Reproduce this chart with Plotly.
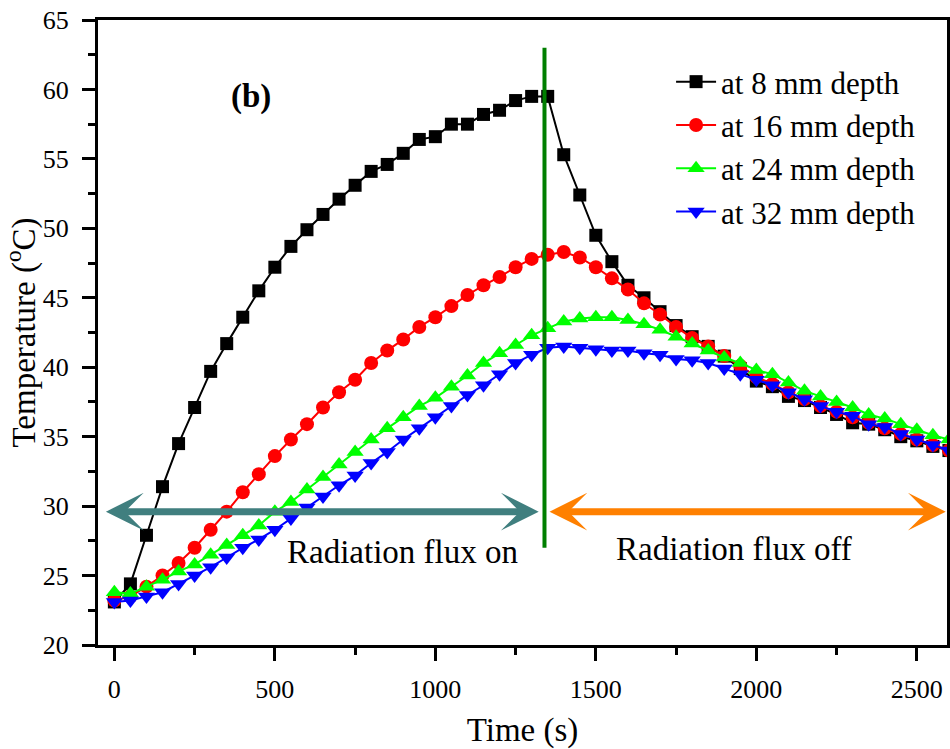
import plotly.graph_objects as go

# ---- data ----
time_s = [0, 50, 100, 150, 200, 250, 300, 350, 400, 450, 500, 550, 600, 650, 700, 750,
          800, 850, 900, 950, 1000, 1050, 1100, 1150, 1200, 1250, 1300, 1350, 1400, 1450,
          1500, 1550, 1600, 1650, 1700, 1750, 1800, 1850, 1900, 1950, 2000, 2050, 2100,
          2150, 2200, 2250, 2300, 2350, 2400, 2450, 2500, 2550, 2600]

depth_8mm = [23.1, 24.4, 27.9, 31.4, 34.5, 37.1, 39.7, 41.7, 43.6, 45.5, 47.2, 48.7, 49.9, 51.0, 52.1, 53.1,
             54.1, 54.6, 55.4, 56.4, 56.6, 57.5, 57.5, 58.2, 58.5, 59.2, 59.5, 59.5, 55.3, 52.4,
             49.5, 47.6, 45.9, 45.0, 44.0, 43.0, 42.2, 41.5, 40.8, 39.9, 39.0, 38.6, 37.9,
             37.6, 37.1, 36.6, 36.0, 35.9, 35.5, 35.0, 34.7, 34.3, 34.0]

depth_16mm = [23.2, 23.5, 24.2, 25.0, 25.9, 27.0, 28.3, 29.6, 31.0, 32.3, 33.6, 34.8, 35.9, 37.1, 38.2, 39.1,
              40.3, 41.2, 42.0, 42.9, 43.6, 44.4, 45.2, 45.9, 46.5, 47.2, 47.8, 48.1, 48.3, 47.9,
              47.2, 46.4, 45.6, 44.6, 43.8, 42.9, 42.1, 41.5, 40.8, 40.1, 39.3, 38.8, 38.2,
              37.7, 37.2, 36.8, 36.4, 36.0, 35.6, 35.2, 34.8, 34.4, 34.0]

depth_24mm = [23.8, 23.7, 24.2, 24.7, 25.3, 25.8, 26.5, 27.2, 27.9, 28.6, 29.6, 30.3, 31.2, 32.1, 33.0, 33.9,
              34.8, 35.6, 36.4, 37.2, 37.8, 38.6, 39.4, 40.3, 41.0, 41.6, 42.3, 42.8, 43.3, 43.5,
              43.6, 43.6, 43.4, 43.1, 42.7, 42.2, 41.7, 41.2, 40.7, 40.3, 39.8, 39.5, 38.9,
              38.3, 37.9, 37.5, 37.1, 36.6, 36.3, 35.9, 35.5, 35.1, 34.8]

depth_32mm = [23.1, 23.2, 23.5, 23.8, 24.4, 25.0, 25.6, 26.3, 27.0, 27.6, 28.3, 29.1, 29.9, 30.7, 31.5, 32.2,
              33.1, 33.9, 34.8, 35.6, 36.4, 37.2, 38.0, 38.7, 39.5, 40.3, 40.9, 41.4, 41.5, 41.4,
              41.3, 41.2, 41.2, 41.0, 40.9, 40.6, 40.5, 40.3, 39.9, 39.5, 39.1, 38.7, 38.2,
              37.7, 37.2, 36.8, 36.5, 35.9, 35.7, 35.2, 34.8, 34.4, 34.0]

series_names = ["at 8 mm depth", "at 16 mm depth", "at 24 mm depth", "at 32 mm depth"]
series_values = [depth_8mm, depth_16mm, depth_24mm, depth_32mm]
series_colors = ["#000000", "#FF0000", "#00FF00", "#0000FF"]
series_symbols = ["square", "circle", "triangle-up", "triangle-down"]
series_sizes = [13, 14, 15, 15]

x_ticks = [0, 500, 1000, 1500, 2000, 2500]
y_ticks = [20, 25, 30, 35, 40, 45, 50, 55, 60, 65]

switch_time = 1340          # radiation flux switched off
switch_line_y = [27.0, 63.0]
arrow_y = 29.6
flux_on_span = [-31, 1322]
flux_off_span = [1351, 2590]

FONT = "Liberation Serif"

fig = go.Figure()
for name, vals, col, sym, sz in zip(series_names, series_values, series_colors,
                                     series_symbols, series_sizes):
    fig.add_trace(go.Scatter(
        x=time_s, y=vals, name=name, mode="lines+markers",
        line=dict(color=col, width=2),
        marker=dict(symbol=sym, size=sz, color=col, line=dict(width=0)),
    ))

# vertical switch line
fig.add_trace(go.Scatter(
    x=[switch_time, switch_time], y=switch_line_y, mode="lines",
    line=dict(color="#007F00", width=4), showlegend=False, hoverinfo="skip",
))

# arrows
for span, col in [(flux_on_span, "#407F7F"), (flux_off_span, "#FF8000")]:
    fig.add_annotation(
        x=span[1], y=arrow_y, ax=span[0], ay=arrow_y,
        xref="x", yref="y", axref="x", ayref="y",
        text="", showarrow=True, arrowside="end+start",
        arrowhead=3, startarrowhead=3, arrowsize=0.9, startarrowsize=0.9,
        arrowwidth=7, arrowcolor=col, standoff=0, startstandoff=0,
    )

fig.add_annotation(x=898, y=26.7, xref="x", yref="y", text="Radiation flux on",
                   showarrow=False, font=dict(family=FONT, size=33, color="black"))
fig.add_annotation(x=1930, y=26.9, xref="x", yref="y", text="Radiation flux off",
                   showarrow=False, font=dict(family=FONT, size=33, color="black"))
fig.add_annotation(x=426, y=59.5, xref="x", yref="y", text="<b>(b)</b>",
                   showarrow=False, font=dict(family=FONT, size=33, color="black"))

axis_common = dict(
    showline=True, linewidth=3, linecolor="black", mirror=True,
    ticks="outside", ticklen=13, tickwidth=3, tickcolor="black",
    showgrid=False, zeroline=False,
    tickfont=dict(family=FONT, size=26, color="black"),
    minor=dict(ticks="outside", ticklen=7, tickwidth=3, tickcolor="black", showgrid=False),
)

fig.update_xaxes(
    range=[-51, 2594], tickvals=x_ticks, ticktext=[str(v) for v in x_ticks],
    minor_dtick=250, minor_tick0=0, automargin="bottom",
    title=dict(text="Time (s)", font=dict(family=FONT, size=33, color="black"), standoff=16),
    ticklabelstandoff=6,
    **axis_common,
)
fig.update_yaxes(
    range=[20, 65], tickvals=y_ticks, ticktext=[str(v) for v in y_ticks],
    minor_dtick=2.5, minor_tick0=0, automargin="left",
    title=dict(text="Temperature (<sup>o</sup>C)", font=dict(family=FONT, size=33, color="black"),
               standoff=2),
    ticklabelstandoff=8,
    **axis_common,
)

fig.update_layout(
    width=950, height=749,
    margin=dict(l=98, r=3, t=20, b=104),
    paper_bgcolor="white", plot_bgcolor="white",
    showlegend=True,
    legend=dict(x=0.675, y=0.944, xanchor="left", yanchor="top",
                bgcolor="rgba(0,0,0,0)", borderwidth=0,
                font=dict(family=FONT, size=31, color="black"),
                itemwidth=40, tracegroupgap=0),
)

# remove the browser's default 8px page margin so the figure sits at (0, 0)
fig.write_html("out.html",
               config={"displayModeBar": False},
               post_script="document.body.style.margin='0';document.body.style.padding='0';")
